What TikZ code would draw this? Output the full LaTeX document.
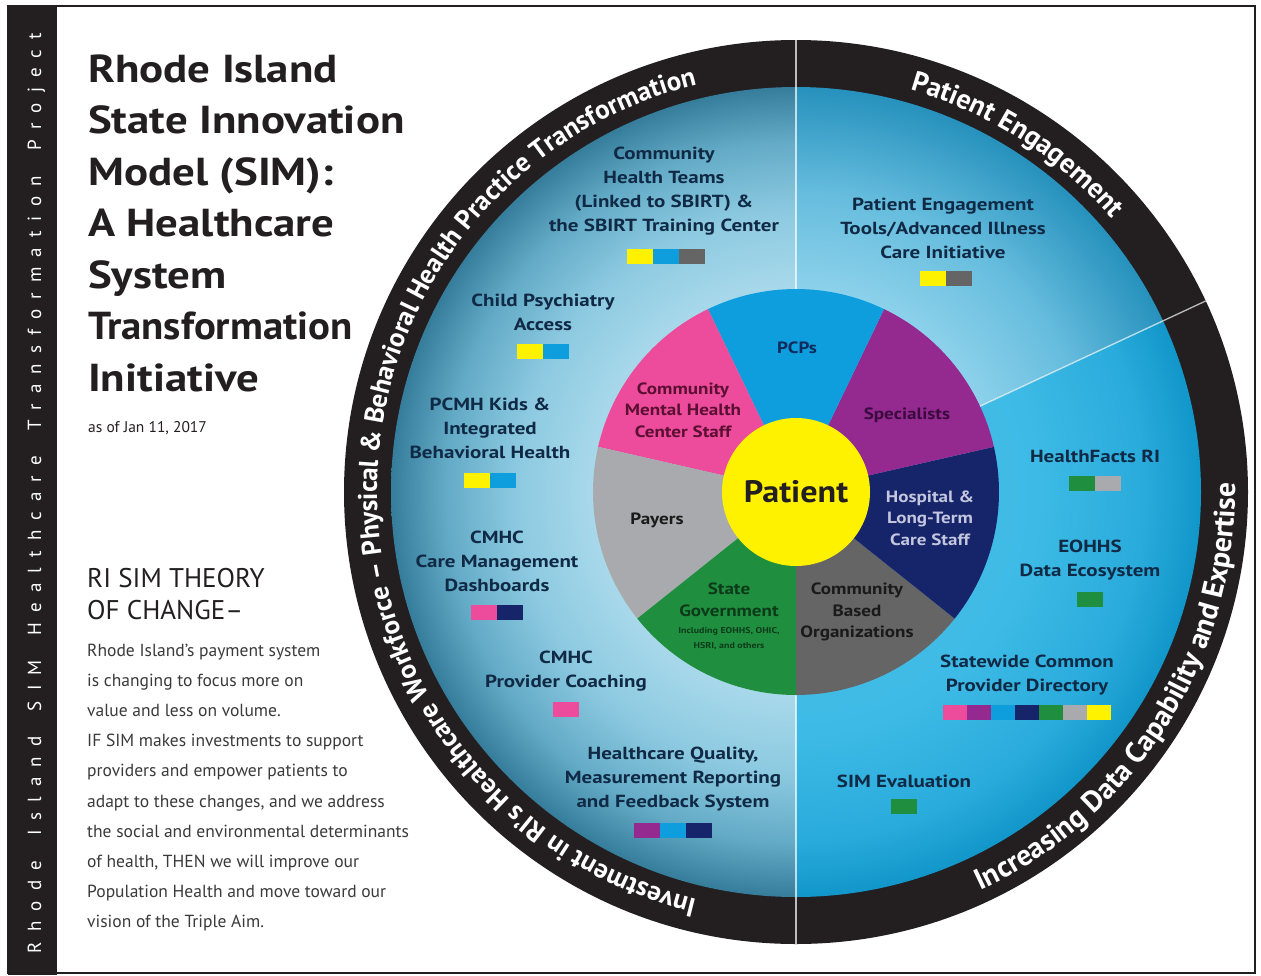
\documentclass[tikz,border=0pt]{standalone}
\usepackage{fontspec}
\setmainfont{PT Sans}
\newfontfamily\wideA{PT Sans}[FakeStretch=1.2]
\newfontfamily\wideB{PT Sans}[FakeStretch=1.17]
\newfontfamily\wideT{PT Sans}[FakeStretch=1.15]
\newfontfamily\wideP{PT Sans}[FakeStretch=1.1]
\usetikzlibrary{decorations.text,calc}

\definecolor{ringblk}{HTML}{231F20}
\definecolor{lbl}{HTML}{102A46}
\definecolor{cpcp}{HTML}{0E9DDD}
\definecolor{cpink}{HTML}{EC4C9B}
\definecolor{cpayer}{HTML}{A8AAAD}
\definecolor{cgreen}{HTML}{1F8E3F}
\definecolor{ccbo}{HTML}{656565}
\definecolor{cnavy}{HTML}{16246A}
\definecolor{cpurple}{HTML}{94298F}
\definecolor{cyellow}{HTML}{FFF200}
\definecolor{bodygray}{HTML}{3A3A3A}
\definecolor{tpcp}{HTML}{0F2A5C}
\definecolor{tpink}{HTML}{5B0F32}
\definecolor{tpurple}{HTML}{3B0B3F}
\definecolor{tnavy}{HTML}{C3C6DE}
\definecolor{tgreen}{HTML}{0C3B1A}
\definecolor{tdark}{HTML}{1A1A1A}

% radius of the shaded disc corresponds to 25bp
\pgfdeclareradialshading{leftsh}{\pgfpoint{0bp}{0bp}}{rgb(0bp)=(0.68,0.86,0.93); rgb(12.5bp)=(0.66,0.85,0.92); rgb(17.3bp)=(0.55,0.79,0.88); rgb(21.6bp)=(0.39,0.67,0.78); rgb(25bp)=(0.21,0.49,0.61); rgb(50bp)=(0.21,0.49,0.61)}
\pgfdeclareradialshading{upsh}{\pgfpoint{0bp}{0bp}}{rgb(0bp)=(0.58,0.84,0.93); rgb(12.5bp)=(0.55,0.82,0.92); rgb(18.5bp)=(0.40,0.74,0.87); rgb(25bp)=(0.15,0.57,0.74); rgb(50bp)=(0.15,0.57,0.74)}
\pgfdeclareradialshading{lowsh}{\pgfpoint{0bp}{0bp}}{rgb(0bp)=(0.30,0.76,0.92); rgb(15bp)=(0.24,0.73,0.90); rgb(21.5bp)=(0.16,0.67,0.86); rgb(25bp)=(0.07,0.59,0.79); rgb(50bp)=(0.07,0.59,0.79)}

\newcommand{\ringfont}{\bfseries\fontsize{27}{27}\selectfont}
\newcommand{\swrow}[4]{\foreach \cc [count=\ii from 0] in {#4}{\fill[\cc] ({#1+\ii*#3},{-(#2)+7.5}) rectangle ++(#3,-15);}}

\tikzset{
  lab/.style={font=\wideA\bfseries\fontsize{17.5}{24}\selectfont, text=lbl, align=center, inner sep=0pt},
  pielab/.style={font=\wideB\bfseries\fontsize{16.3}{21.5}\selectfont, align=center, inner sep=0pt},
  titleline/.style={font=\wideT\bfseries\fontsize{39}{40}\selectfont, text=ringblk, anchor=base west, inner sep=0pt},
  bodyline/.style={font=\fontsize{17.5}{20}\selectfont, text=bodygray, anchor=base west, inner sep=0pt},
  divline/.style={white, opacity=0.7, line width=1.3pt},
}

\begin{document}
\begin{tikzpicture}[x=1pt,y=1pt]
\useasboundingbox (0,0) rectangle (1261,-975);
\fill[white] (0,0) rectangle (1261,-975);
\coordinate (C) at (796,-492);

% frame and side bar
\draw[line width=1.2pt, ringblk] (8,-6) rectangle (1255,-973);
\fill[ringblk] (8,-6) rectangle (57,-975);
\path[decorate, decoration={text along path, text color=white, text align={fit to path},
  text={|\fontsize{19}{19}\selectfont|Rhode Island SIM Healthcare Transformation Project}}]
  (41,-953) -- (41,-33);

% title block
\foreach \t [count=\i] in {Rhode Island, State Innovation, Model (SIM):, A Healthcare, System, {\scalebox{0.91}[1]{Transformation}}, Initiative}
  \node[titleline] (title\i) at (88,{-82-(\i-1)*51.5}) {\t};
\node[font=\fontsize{15.5}{16}\selectfont, text=ringblk, anchor=base west, inner sep=0pt] (date) at (88,-432) {as of Jan 11, 2017};

\node[font=\fontsize{27}{30}\selectfont, text=ringblk, anchor=base west, inner sep=0pt] (theory1) at (87,-587) {RI SIM THEORY};
\node[font=\fontsize{27}{30}\selectfont, text=ringblk, anchor=base west, inner sep=0pt] (theory2) at (87,-619) {OF CHANGE–};
\foreach \t [count=\i] in {Rhode Island's payment system, is changing to focus more on, value and less on volume., IF SIM makes investments to support, providers and empower patients to, {adapt to these changes, and we address}, the social and environmental determinants, {of health, THEN we will improve our}, Population Health and move toward our, vision of the Triple Aim.}
  \node[bodyline] (body\i) at (87,{-656-(\i-1)*30.2}) {\t};

% outer ring and sectors
\fill[ringblk] (C) circle (452);
\begin{scope}
  \clip (C) -- ++(90:405) arc[start angle=90, end angle=270, radius=405] -- cycle;
  \shade[shading=leftsh] (C) circle (405);
\end{scope}
\begin{scope}
  \clip (C) -- ++(25:405) arc[start angle=25, end angle=90, radius=405] -- cycle;
  \shade[shading=upsh] (C) circle (405);
\end{scope}
\begin{scope}
  \clip (C) -- ++(-90:405) arc[start angle=-90, end angle=25, radius=405] -- cycle;
  \shade[shading=lowsh] (C) circle (405);
\end{scope}
\draw[divline] ($(C)+(0,452)$) -- ($(C)+(0,-452)$);
\draw[divline] ($(C)+(25:200)$) -- ($(C)+(25:452)$);

% pie
\fill[ccbo]    (C) -- ++(-90:203)    arc[start angle=-90,    end angle=-38.57, radius=203] -- cycle;
\fill[cnavy]   (C) -- ++(-38.57:203) arc[start angle=-38.57, end angle=12.86,  radius=203] -- cycle;
\fill[cpurple] (C) -- ++(12.86:203)  arc[start angle=12.86,  end angle=64.29,  radius=203] -- cycle;
\fill[cpcp]    (C) -- ++(64.29:203)  arc[start angle=64.29,  end angle=115.71, radius=203] -- cycle;
\fill[cpink]   (C) -- ++(115.71:203) arc[start angle=115.71, end angle=167.14, radius=203] -- cycle;
\fill[cpayer]  (C) -- ++(167.14:203) arc[start angle=167.14, end angle=218.57, radius=203] -- cycle;
\fill[cgreen]  (C) -- ++(218.57:203) arc[start angle=218.57, end angle=270,    radius=203] -- cycle;
\node[circle, fill=cyellow, minimum size=148pt, inner sep=0pt, font=\wideP\bfseries\fontsize{31}{31}\selectfont, text=ringblk] (patient) at (C) {Patient};

% pie labels
\node[pielab, text=tpcp] (pcps) at (797,-348) {PCPs};
\node[pielab, text=tpink] (cmhcstaff) at (683,-410) {Community\\Mental Health\\Center Staff};
\node[pielab, text=tpurple] (spec) at (907,-415) {Specialists};
\node[pielab, text=tdark] (payers) at (657,-520) {Payers};
\node[pielab, text=tnavy] (hosp) at (930,-518) {Hospital \&\\Long-Term\\Care Staff};
\node[pielab, text=tgreen] (stgov) at (729,-600) {State\\Government};
\node[font=\wideB\bfseries\fontsize{8.5}{15}\selectfont, text=tgreen, align=center, inner sep=0pt] (stgovsub) at (729,-639) {Including EOHHS, OHIC,\\HSRI, and others};
\node[pielab, text=tdark] (cbo) at (857,-612) {Community\\Based\\Organizations};

% initiative labels
\node[lab] (cht) at (664,-191) {Community\\Health Teams\\(Linked to SBIRT) \&\\the SBIRT Training Center};
\swrow{627}{256}{26}{cyellow,cpcp,ccbo}
\node[lab] (cpa) at (543,-312) {Child Psychiatry\\Access};
\swrow{517}{351}{26}{cyellow,cpcp}
\node[lab] (pcmh) at (490,-428) {PCMH Kids \&\\Integrated\\Behavioral Health};
\swrow{464}{480}{26}{cyellow,cpcp}
\node[lab] (dash) at (497,-561) {CMHC\\Care Management\\Dashboards};
\swrow{471}{612}{26}{cpink,cnavy}
\node[lab] (coach) at (566,-671) {CMHC\\Provider Coaching};
\swrow{553}{709}{26}{cpink}
\node[lab] (hq) at (673,-779) {Healthcare Quality,\\Measurement Reporting\\and Feedback System};
\swrow{634}{830}{26}{cpurple,cpcp,cnavy}
\node[lab] (pe) at (943,-228) {Patient Engagement\\Tools/Advanced Illness\\Care Initiative};
\swrow{920}{278}{26}{cyellow,ccbo}
\node[lab] (hf) at (1095,-456) {HealthFacts RI};
\swrow{1069}{483}{26}{cgreen,cpayer}
\node[lab] (eo) at (1090,-560) {EOHHS\\Data Ecosystem};
\swrow{1077}{599}{26}{cgreen}
\node[lab] (sd) at (1027,-675) {Statewide Common\\Provider Directory};
\swrow{943}{712}{24}{cpink,cpurple,cpcp,cnavy,cgreen,cpayer,cyellow}
\node[lab] (eval) at (904,-781) {SIM Evaluation};
\swrow{891}{806}{26}{cgreen}

% ring texts
\path[decorate, decoration={text along path, text color=white, text align=center,
  text={|\ringfont|Investment in RI’s Healthcare Workforce – Physical {\&} Behavioral Health Practice Transformation}}]
  ($(C)+(268:419)$) arc[start angle=268, end angle=92, radius=419];
\path[decorate, decoration={text along path, text color=white, text align=center,
  text={|\bfseries\fontsize{28}{28}\selectfont|Patient Engagement}}]
  ($(C)+(88:418)$) arc[start angle=88, end angle=27, radius=418];
\path[decorate, decoration={text along path, text color=white, text align=center,
  text={|\bfseries\fontsize{29.5}{29.5}\selectfont|Increasing Data Capability and Expertise}}]
  ($(C)+(-88:439)$) arc[start angle=-88, end angle=24, radius=439];
\end{tikzpicture}
\end{document}
